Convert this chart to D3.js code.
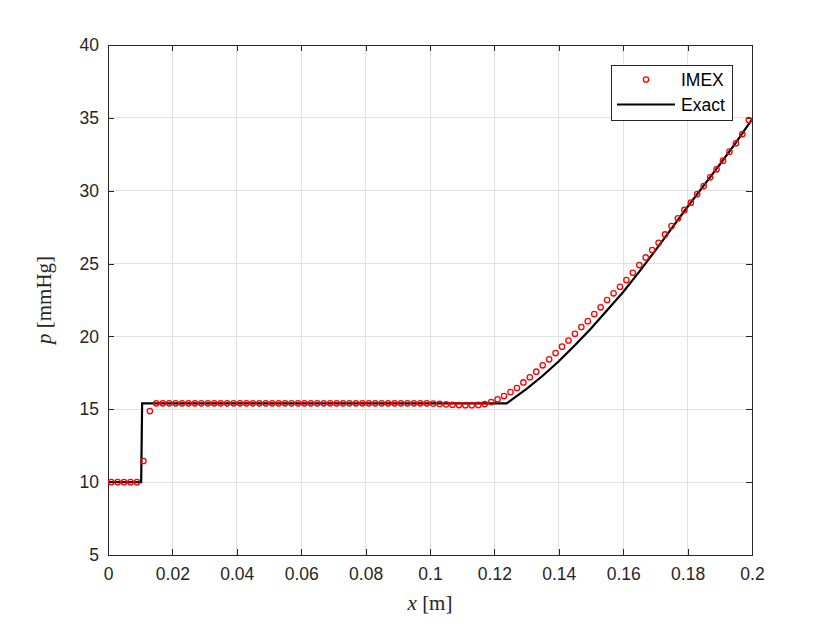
<!DOCTYPE html>
<html>
<head>
<meta charset="utf-8">
<script src="https://cdn.jsdelivr.net/npm/d3@7/dist/d3.min.js"></script>
<style>
body{margin:0;background:#fff;}
svg{display:block;}
</style>
</head>
<body>
<svg id="chart" width="830" height="623"></svg>
<script>
// ---- data ----
const imexX = [
0.001,0.003,0.005,0.007,0.009,0.011,0.013,0.015,0.017,0.019,
0.021,0.023,0.025,0.027,0.029,0.031,0.033,0.035,0.037,0.039,
0.041,0.043,0.045,0.047,0.049,0.051,0.053,0.055,0.057,0.059,
0.061,0.063,0.065,0.067,0.069,0.071,0.073,0.075,0.077,0.079,
0.081,0.083,0.085,0.087,0.089,0.091,0.093,0.095,0.097,0.099,
0.101,0.103,0.105,0.107,0.109,0.111,0.113,0.115,0.117,0.119,
0.121,0.123,0.125,0.127,0.129,0.131,0.133,0.135,0.137,0.139,
0.141,0.143,0.145,0.147,0.149,0.151,0.153,0.155,0.157,0.159,
0.161,0.163,0.165,0.167,0.169,0.171,0.173,0.175,0.177,0.179,
0.181,0.183,0.185,0.187,0.189,0.191,0.193,0.195,0.197,0.199];
const imexP = [
10,10,10,10,10,11.45,14.88,15.41,15.41,15.41,
15.41,15.41,15.41,15.41,15.41,15.41,15.41,15.41,15.41,15.41,
15.41,15.41,15.41,15.41,15.41,15.41,15.41,15.41,15.41,15.41,
15.41,15.41,15.41,15.41,15.41,15.41,15.41,15.41,15.41,15.41,
15.41,15.41,15.41,15.41,15.41,15.41,15.41,15.41,15.41,15.41,
15.39,15.37,15.34,15.31,15.29,15.28,15.28,15.30,15.36,15.50,
15.69,15.91,16.18,16.46,16.84,17.20,17.58,18.02,18.43,18.86,
19.30,19.72,20.18,20.64,21.05,21.54,22.00,22.50,22.96,23.41,
23.87,24.37,24.90,25.42,25.93,26.43,27.00,27.58,28.11,28.68,
29.18,29.77,30.32,30.92,31.47,32.06,32.68,33.25,33.89,34.85];

const exactX = [0,0.0103,0.0106,0.1238,0.130,0.135,0.140,0.145,0.150,0.155,0.160,0.165,0.170,0.175,0.180,0.185,0.190,0.195,0.200];
const exactP = [10,10,15.4,15.4,16.40,17.30,18.30,19.40,20.55,21.80,23.05,24.45,25.90,27.40,28.90,30.35,31.80,33.30,34.90];

const xTicks = [0,0.02,0.04,0.06,0.08,0.1,0.12,0.14,0.16,0.18,0.2];
const xTickLabels = ["0","0.02","0.04","0.06","0.08","0.1","0.12","0.14","0.16","0.18","0.2"];
const yTicks = [5,10,15,20,25,30,35,40];
const yTickLabels = ["5","10","15","20","25","30","35","40"];
const seriesNames = ["IMEX","Exact"];

// ---- layout ----
const L = 108, R = 752, T = 45, B = 555;
const axisColor = "#262626";
const gridColor = "#e1e1e1";
const tickFont = "Liberation Sans, Arial, sans-serif";
const serif = "Liberation Serif, 'DejaVu Serif', serif";

const svg = d3.select("#chart");
const x = d3.scaleLinear().domain([0,0.2]).range([L,R]);
const y = d3.scaleLinear().domain([5,40]).range([B,T]);

// grid
const grid = svg.append("g");
grid.selectAll("line.gx").data(xTicks).join("line")
  .attr("x1",d=>x(d)).attr("x2",d=>x(d)).attr("y1",T).attr("y2",B)
  .attr("stroke",gridColor).attr("stroke-width",1).attr("shape-rendering","crispEdges");
grid.selectAll("line.gy").data(yTicks).join("line")
  .attr("x1",L).attr("x2",R).attr("y1",d=>y(d)).attr("y2",d=>y(d))
  .attr("stroke",gridColor).attr("stroke-width",1).attr("shape-rendering","crispEdges");

// axes (ticks inward, box)
const tickLen = 6;
const xAxisB = d3.axisBottom(x).tickValues(xTicks).tickSize(-tickLen).tickPadding(14)
  .tickFormat((d,i)=>xTickLabels[i]);
const gxB = svg.append("g").attr("transform",`translate(0,${B})`).call(xAxisB);
const xAxisT = d3.axisTop(x).tickValues(xTicks).tickSize(-tickLen).tickFormat("");
const gxT = svg.append("g").attr("transform",`translate(0,${T})`).call(xAxisT);
const yAxisL = d3.axisLeft(y).tickValues(yTicks).tickSize(-tickLen).tickPadding(10)
  .tickFormat((d,i)=>yTickLabels[i]);
const gyL = svg.append("g").attr("transform",`translate(${L},0)`).call(yAxisL);
const yAxisR = d3.axisRight(y).tickValues(yTicks).tickSize(-tickLen).tickFormat("");
const gyR = svg.append("g").attr("transform",`translate(${R},0)`).call(yAxisR);

[gxB,gxT,gyL,gyR].forEach(g=>{
  g.select(".domain").attr("stroke",axisColor).attr("stroke-width",1).attr("shape-rendering","crispEdges");
  g.selectAll(".tick line").attr("stroke",axisColor).attr("stroke-width",1).attr("shape-rendering","crispEdges");
  g.selectAll(".tick text").attr("fill",axisColor).attr("font-family",tickFont).attr("font-size",17.5);
});
gxB.selectAll(".tick text").attr("dy","0.71em").attr("y",13);
gyL.selectAll(".tick text").attr("x",-9);

// exact line
const line = d3.line().x((d,i)=>x(exactX[i])).y(d=>y(d));
svg.append("path").datum(exactP)
  .attr("d",line).attr("fill","none").attr("stroke","#000").attr("stroke-width",2.2)
  .attr("stroke-linejoin","miter");

// IMEX markers
svg.append("g").selectAll("circle").data(imexP).join("circle")
  .attr("cx",(d,i)=>x(imexX[i])).attr("cy",d=>y(d)).attr("r",2.7)
  .attr("fill","none").attr("stroke","#ff0000").attr("stroke-width",1.3);

// axis labels
const xl = svg.append("text").attr("x",(L+R)/2).attr("y",610).attr("text-anchor","middle")
  .attr("font-family",serif).attr("font-size",21).attr("fill",axisColor);
xl.append("tspan").attr("font-style","italic").text("x");
xl.append("tspan").text(" [m]");

const yl = svg.append("text").attr("transform",`translate(51,${(T+B)/2}) rotate(-90)`)
  .attr("text-anchor","middle").attr("font-family",serif).attr("font-size",21).attr("fill",axisColor);
yl.append("tspan").attr("font-style","italic").text("p");
yl.append("tspan").text(" [mmHg]");

// legend
const lg = svg.append("g");
lg.append("rect").attr("x",611).attr("y",65).attr("width",121).attr("height",55)
  .attr("fill","#fff").attr("stroke",axisColor).attr("stroke-width",1).attr("shape-rendering","crispEdges");
lg.append("circle").attr("cx",646).attr("cy",79.5).attr("r",2.7)
  .attr("fill","none").attr("stroke","#ff0000").attr("stroke-width",1.3);
lg.append("line").attr("x1",617).attr("x2",675).attr("y1",104.5).attr("y2",104.5)
  .attr("stroke","#000").attr("stroke-width",2.2);
lg.append("text").attr("x",681).attr("y",86).attr("font-family",tickFont).attr("font-size",17.5)
  .attr("fill","#000").text(seriesNames[0]);
lg.append("text").attr("x",681).attr("y",111).attr("font-family",tickFont).attr("font-size",17.5)
  .attr("fill","#000").text(seriesNames[1]);
</script>
</body>
</html>
